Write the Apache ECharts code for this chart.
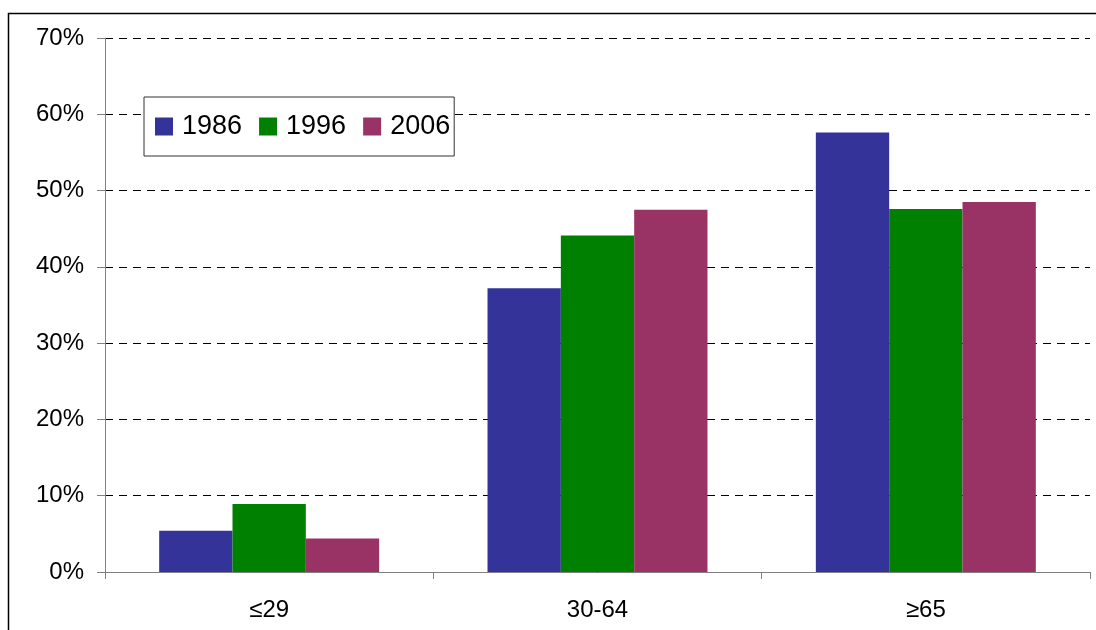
<!DOCTYPE html>
<html>
<head>
<meta charset="utf-8">
<script src="https://cdn.jsdelivr.net/npm/echarts@6/dist/echarts.min.js"></script>
<style>
  html, body { margin: 0; padding: 0; background: #fff; }
  #chart { width: 1096px; height: 630px; }
</style>
</head>
<body>
<div id="chart"></div>
<script>
// age groups and yearly shares (%)
const categories = ['≤29', '30-64', '≥65'];
const years = ['1986', '1996', '2006'];
const share1986 = [5.4, 37.2, 57.6];
const share1996 = [8.9, 44.1, 47.6];
const share2006 = [4.4, 47.5, 48.5];
const yTicks = [0, 10, 20, 30, 40, 50, 60, 70];

const colors = ['#333399', '#008000', '#993366'];
const font = 'Liberation Sans, Arial, sans-serif';

let chart = echarts.init(document.getElementById('chart'));
chart.setOption({
  animation: false,
  color: colors,
  textStyle: { fontFamily: font },
  graphic: [{
    type: 'rect',
    shape: { x: 8.5, y: 13.5, width: 1200, height: 800 },
    style: { fill: 'none', stroke: '#000', lineWidth: 1.5 },
    silent: true
  }],
  legend: {
    data: years,
    left: 144,
    top: 97,
    orient: 'horizontal',
    icon: 'rect',
    itemWidth: 18,
    itemHeight: 18,
    itemGap: 17,
    padding: [16, 4, 16, 11],
    borderColor: '#333',
    borderWidth: 1,
    backgroundColor: '#fff',
    textStyle: { fontSize: 27, color: '#000', fontFamily: font, padding: [0, 0, 0, 4] }
  },
  grid: { left: 105, top: 38, right: 6, bottom: 58, containLabel: false },
  xAxis: {
    type: 'category',
    data: categories,
    boundaryGap: true,
    axisLine: { lineStyle: { color: '#808080', width: 1 } },
    axisTick: { show: true, length: 7, alignWithLabel: false, lineStyle: { color: '#808080' } },
    axisLabel: { fontSize: 24, color: '#000', margin: 26, fontFamily: font }
  },
  yAxis: {
    type: 'value',
    min: yTicks[0],
    max: yTicks[yTicks.length - 1],
    interval: 10,
    axisLine: { show: true, lineStyle: { color: '#808080', width: 1 } },
    axisTick: { show: true, length: 8, inside: false, lineStyle: { color: '#808080' } },
    axisLabel: { fontSize: 24, color: '#000', margin: 21, formatter: '{value}%', fontFamily: font },
    splitLine: { show: true, lineStyle: { color: '#000', type: [8, 6], width: 1 } }
  },
  series: [
    { name: years[0], type: 'bar', data: share1986, barGap: '0%', barCategoryGap: '33%' },
    { name: years[1], type: 'bar', data: share1996, barGap: '0%', barCategoryGap: '33%' },
    { name: years[2], type: 'bar', data: share2006, barGap: '0%', barCategoryGap: '33%' }
  ]
});
</script>
</body>
</html>
